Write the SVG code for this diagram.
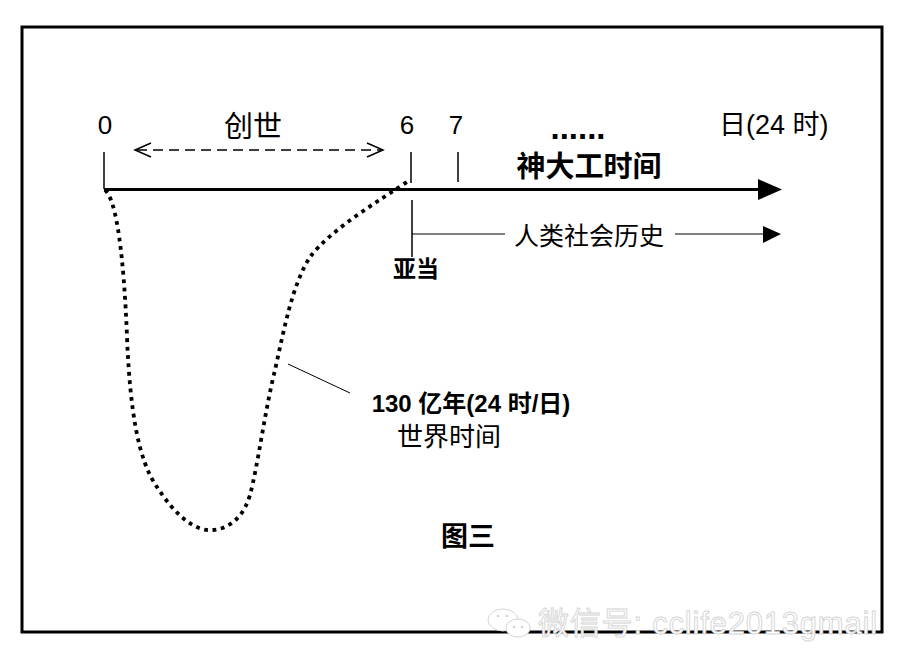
<svg xmlns="http://www.w3.org/2000/svg" width="900" height="669" viewBox="0 0 900 669">
<style>
.t{font-family:"Liberation Sans","Noto Sans CJK SC",sans-serif;fill:#000}
.b{font-weight:bold}
.ln{stroke:#000;fill:none}
.wm{font-family:"Liberation Sans","Noto Sans CJK SC",sans-serif;fill:#fff;stroke:#d4d4d4;stroke-width:0.9;font-size:31px;letter-spacing:0.8px}
</style>
<rect x="0" y="0" width="900" height="669" fill="#fff"/>
<rect id="frame" x="22" y="27" width="860" height="605" fill="none" stroke="#000" stroke-width="3"/>

<g id="connectors">
  <line class="ln" x1="104" y1="189.5" x2="762" y2="189.5" stroke-width="3"/>
  <polygon points="758,179 782,189.5 758,200" fill="#000"/>
  <line class="ln" x1="104" y1="152" x2="104" y2="189" stroke-width="1.5"/>
  <line class="ln" x1="411" y1="152" x2="411" y2="183" stroke-width="1.5"/>
  <line class="ln" x1="458" y1="152" x2="458" y2="182" stroke-width="1.5"/>
  <line class="ln" x1="412" y1="200" x2="412" y2="257" stroke-width="1.5"/>
  <line class="ln" x1="137" y1="150" x2="381" y2="150" stroke-width="1.5" stroke-dasharray="10 6"/>
  <polyline class="ln" points="151,143 135,150 151,157" stroke-width="1.5"/>
  <polyline class="ln" points="367,143 383,150 367,157" stroke-width="1.5"/>
  <line class="ln" x1="412" y1="234" x2="505" y2="234" stroke-width="1"/>
  <line class="ln" x1="675" y1="234" x2="765" y2="234" stroke-width="1"/>
  <polygon points="763,226 781,234 763,243" fill="#000"/>
  <path class="ln" stroke-width="3.8" stroke-dasharray="3.8 4.6" d="M105,190 C117,200 124,260 127,337 C130,410 138,460 157,487 C175,515 195,532 213,530 C232,528 244,515 250,495 C258,465 265,410 275,370 C284,330 292,285 310,257 C330,230 380,200 410,180"/>
  <line class="ln" x1="288" y1="364" x2="350" y2="393" stroke-width="1"/>
</g>

<g id="labels-axis">
  <text class="t" x="105" y="134" font-size="26" text-anchor="middle">0</text>
  <text class="t" x="407" y="134" font-size="26" text-anchor="middle">6</text>
  <text class="t" x="456" y="134" font-size="26" text-anchor="middle">7</text>
  <text class="t b" x="578" y="139" font-size="33" text-anchor="middle">......</text>
  <text class="t" x="719" y="134" font-size="27">日(24 时)</text>
</g>
<g id="node-creation"><text class="t" x="253" y="137" font-size="29" text-anchor="middle">创世</text></g>
<g id="node-godtime"><text class="t b" x="589" y="177" font-size="29" text-anchor="middle">神大工时间</text></g>
<g id="node-history"><text class="t" x="589" y="245" font-size="25" text-anchor="middle">人类社会历史</text></g>
<g id="node-adam"><text class="t b" x="416" y="277" font-size="23" text-anchor="middle">亚当</text></g>
<g id="node-world">
  <text class="t b" x="471" y="412" font-size="24" text-anchor="middle">130 亿年(24 时/日)</text>
  <text class="t" x="449" y="446" font-size="26" text-anchor="middle">世界时间</text>
</g>
<g id="node-fig"><text class="t b" x="468" y="546" font-size="27" text-anchor="middle">图三</text></g>

<g id="watermark">
  <ellipse cx="503" cy="620" rx="15" ry="11" fill="#fff" stroke="#d4d4d4" stroke-width="1"/>
  <ellipse cx="518" cy="628" rx="12" ry="9" fill="#fff" stroke="#d4d4d4" stroke-width="1"/>
  <circle cx="514" cy="627" r="1.3" fill="#d4d4d4"/>
  <circle cx="522" cy="627" r="1.3" fill="#d4d4d4"/>
  <circle cx="498" cy="616" r="1.3" fill="#d4d4d4"/>
  <circle cx="507" cy="616" r="1.3" fill="#d4d4d4"/>
  <text class="wm" x="538" y="634">微信号: cclife2013gmail</text>
</g>
</svg>
